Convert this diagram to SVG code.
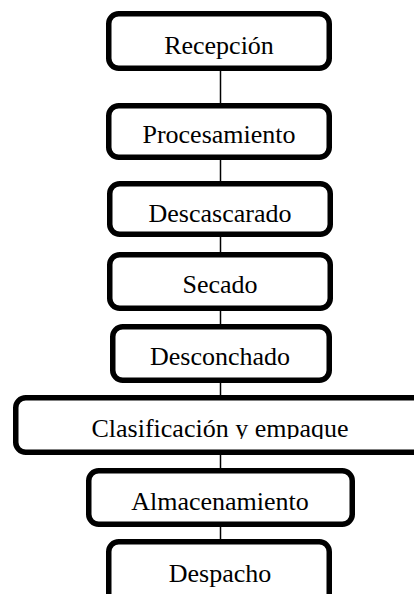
<svg xmlns="http://www.w3.org/2000/svg" width="414" height="594" viewBox="0 0 414 594">
<style>
.box{fill:#fff;stroke:#000;stroke-width:5.5}
.lbl{font-family:"Liberation Serif","Times New Roman",serif;font-size:26px;fill:#000;text-anchor:middle}
.con{stroke:#000;stroke-width:1.5;fill:none}
</style>
<defs>
<clipPath id="clipRec"><rect x="100" y="0" width="240" height="62"/></clipPath>
<clipPath id="clipCla"><rect x="0" y="380" width="414" height="59"/></clipPath>
</defs>
<rect width="414" height="594" fill="#fff"/>
<g id="connectors">
<line class="con" x1="220.5" y1="71" x2="220.5" y2="103"/>
<line class="con" x1="220.5" y1="160" x2="220.5" y2="181"/>
<line class="con" x1="220.5" y1="237" x2="220.5" y2="252"/>
<line class="con" x1="220.5" y1="311" x2="220.5" y2="324"/>
<line class="con" x1="220.5" y1="383" x2="220.5" y2="395"/>
<line class="con" x1="220.5" y1="455" x2="220.5" y2="468"/>
<line class="con" x1="220.5" y1="527" x2="220.5" y2="539"/>
</g>
<g id="recepcion">
<rect class="box" x="108.75" y="13.75" width="220.5" height="54.5" rx="10"/>
<text class="lbl" x="219" y="54" clip-path="url(#clipRec)">Recepción</text>
</g>
<g id="procesamiento">
<rect class="box" x="108.75" y="105.75" width="220.5" height="51.5" rx="10"/>
<text class="lbl" x="219" y="143">Procesamiento</text>
</g>
<g id="descascarado">
<rect class="box" x="109.75" y="183.75" width="220.5" height="50.5" rx="10"/>
<text class="lbl" x="220" y="221.5">Descascarado</text>
</g>
<g id="secado">
<rect class="box" x="109.75" y="254.75" width="220.5" height="53.5" rx="10"/>
<text class="lbl" x="220" y="293">Secado</text>
</g>
<g id="desconchado">
<rect class="box" x="112.75" y="326.75" width="216.5" height="53.5" rx="10"/>
<text class="lbl" x="220" y="365">Desconchado</text>
</g>
<g id="clasificacion">
<rect class="box" x="15.75" y="397.75" width="420" height="54.5" rx="10"/>
<text class="lbl" x="220" y="437" clip-path="url(#clipCla)">Clasificación y empaque</text>
</g>
<g id="almacenamiento">
<rect class="box" x="88.75" y="470.75" width="263.5" height="53.5" rx="10"/>
<text class="lbl" x="220" y="510">Almacenamiento</text>
</g>
<g id="despacho">
<rect class="box" x="108.75" y="541.75" width="220.5" height="70" rx="10"/>
<text class="lbl" x="220" y="582">Despacho</text>
</g>
</svg>
